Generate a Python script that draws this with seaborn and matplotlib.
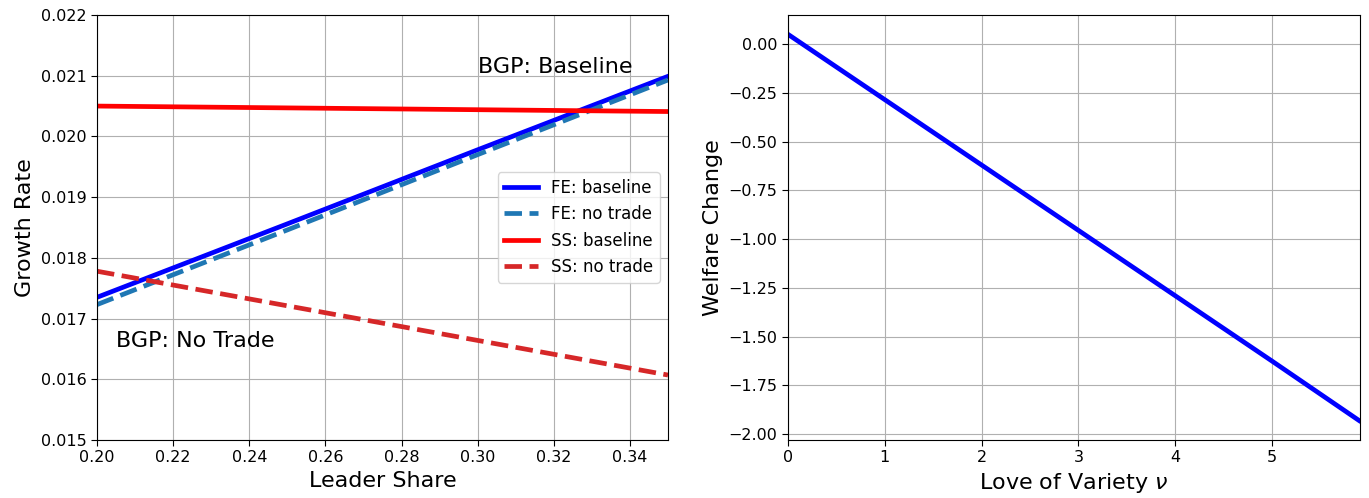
import numpy as np
import pandas as pd
import matplotlib
matplotlib.use("Agg")
import matplotlib.pyplot as plt
import matplotlib.ticker as mticker
import seaborn as sns

# Growth rate by leader share
leader_share = [0.20, 0.25, 0.30, 0.35]
fe_baseline = [0.01735, 0.01856, 0.01978, 0.02099]
fe_no_trade = [0.01723, 0.01846, 0.01970, 0.02093]
ss_baseline = [0.02050, 0.02047, 0.02044, 0.02041]
ss_no_trade = [0.01778, 0.01721, 0.01664, 0.01607]

# Welfare change by love of variety
love_of_variety = [0, 1, 2, 3, 4, 5, 5.9]
welfare_change = [0.05, -0.285, -0.62, -0.955, -1.29, -1.625, -1.93]

series = [
    ("FE: baseline", fe_baseline, "blue", "-"),
    ("FE: no trade", fe_no_trade, "tab:blue", "--"),
    ("SS: baseline", ss_baseline, "red", "-"),
    ("SS: no trade", ss_no_trade, "tab:red", "--"),
]

plt.rcdefaults()
plt.rcParams["font.family"] = ["DejaVu Sans"]
plt.rcParams["xtick.major.size"] = 4
plt.rcParams["ytick.major.size"] = 4

LW = 3.4
TICK_FS = 11.5
LABEL_FS = 16

fig = plt.figure(figsize=(13.69, 4.98), dpi=100)
ax1 = fig.add_axes([97 / 1369, 1 - 440 / 498, 571 / 1369, 425 / 498])
ax2 = fig.add_axes([788 / 1369, 1 - 440 / 498, 572 / 1369, 425 / 498])

for label, vals, color, ls in series:
    df = pd.DataFrame({"x": leader_share, "y": vals})
    sns.lineplot(data=df, x="x", y="y", ax=ax1, color=color, linewidth=LW,
                 linestyle=ls, label=label)

ax1.set_xlim(0.20, 0.35)
ax1.set_ylim(0.015, 0.022)
ax1.set_xticks(np.arange(0.20, 0.351, 0.02))
ax1.set_yticks(np.arange(0.015, 0.0221, 0.001))
ax1.xaxis.set_major_formatter(mticker.FormatStrFormatter("%.2f"))
ax1.yaxis.set_major_formatter(mticker.FormatStrFormatter("%.3f"))
ax1.grid(True)
ax1.set_xlabel("Leader Share", fontsize=LABEL_FS)
ax1.set_ylabel("Growth Rate", fontsize=LABEL_FS)
ax1.text(0.30, 0.02105, "BGP: Baseline", fontsize=LABEL_FS)
ax1.text(0.205, 0.01653, "BGP: No Trade", fontsize=LABEL_FS)
ax1.legend(loc="center right", fontsize=12)

wdf = pd.DataFrame({"nu": love_of_variety, "w": welfare_change})
sns.lineplot(data=wdf, x="nu", y="w", ax=ax2, color="blue", linewidth=LW)
ax2.set_xlim(0, 5.91)
ax2.set_ylim(-2.03, 0.149)
ax2.set_yticks(np.arange(-2.0, 0.01, 0.25))
ax2.yaxis.set_major_formatter(mticker.FuncFormatter(
    lambda v, _: f"{v:.2f}".replace("-", "\u2212")))
ax2.grid(True)
ax2.set_xlabel(r"Love of Variety $\nu$", fontsize=LABEL_FS)
ax2.set_ylabel("Welfare Change", fontsize=LABEL_FS)

for ax in (ax1, ax2):
    ax.tick_params(labelsize=TICK_FS)

fig.savefig("out.png", dpi=100)
